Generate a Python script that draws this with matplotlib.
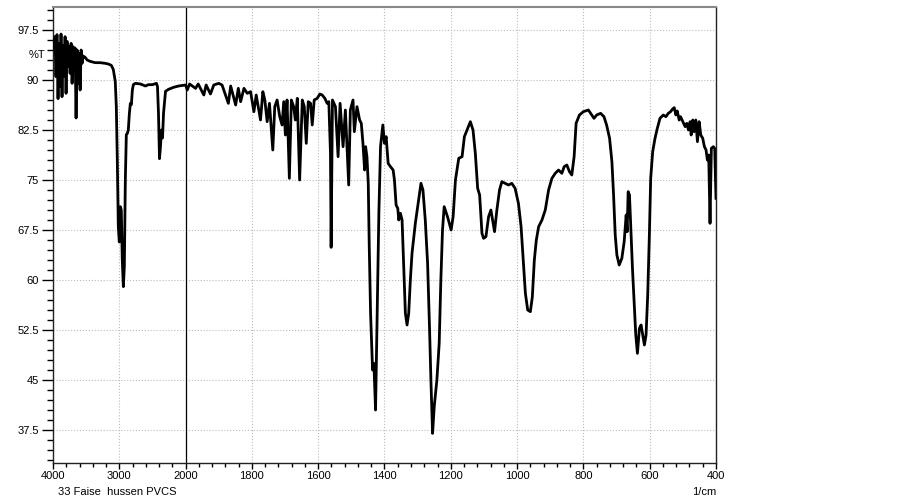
import numpy as np
import matplotlib
matplotlib.use("Agg")
import matplotlib.pyplot as plt
from matplotlib.ticker import FixedLocator, NullFormatter

plt.rcParams['font.family'] = ['Liberation Sans', 'DejaVu Sans']

# IR spectrum: wavenumber (1/cm) and transmittance (%T)
wavenumber = [
    4000, 3985, 3970, 3955, 3940, 3924, 3909, 3894, 3879, 3864, 3849, 3833,
    3818, 3803, 3788, 3773, 3758, 3742, 3727, 3712, 3697, 3682, 3667, 3652,
    3636, 3621, 3606, 3591, 3576, 3561, 3545, 3515, 3485, 3440, 3364, 3288,
    3212, 3167, 3121, 3091, 3061, 3045, 3030, 3015, 3000, 2985, 2970, 2955,
    2939, 2924, 2909, 2894, 2879, 2864, 2848, 2833, 2818, 2803, 2788, 2758,
    2682, 2606, 2561, 2500, 2439, 2424, 2409, 2394, 2379, 2364, 2348, 2333,
    2303, 2258, 2182, 2106, 2030,
    2000, 1995, 1988, 1970, 1962, 1945, 1938, 1925, 1915, 1900, 1890, 1871,
    1864, 1849, 1841, 1834, 1824, 1814, 1804, 1794, 1787, 1774, 1767, 1761,
    1754, 1747, 1737, 1731, 1724, 1716, 1709, 1704, 1699, 1694, 1687, 1681,
    1674, 1669, 1663, 1656, 1648, 1642, 1636, 1630, 1623, 1618, 1612, 1603,
    1595, 1588, 1580, 1573, 1568, 1563, 1561, 1557, 1548, 1540, 1534,
    1525, 1518, 1508, 1503, 1495, 1491, 1483, 1475, 1470, 1465, 1460, 1457,
    1453, 1449, 1446, 1442, 1436, 1432, 1427, 1422, 1417, 1412, 1405, 1400,
    1395, 1389, 1382, 1374, 1370, 1365, 1360, 1357, 1352, 1347, 1342, 1337,
    1332, 1327, 1322, 1317, 1307, 1297, 1290, 1284, 1277, 1270, 1264, 1260,
    1255, 1250, 1242, 1235, 1230, 1225, 1220, 1210, 1199, 1193, 1186, 1176,
    1166, 1159, 1151, 1141, 1133, 1126, 1119, 1113, 1106, 1101, 1094, 1086,
    1079, 1074, 1068, 1061, 1053, 1046, 1036, 1026, 1016, 1006, 996, 988,
    982, 975, 968, 960, 954, 948, 942, 935, 925, 915, 905, 895, 885, 875,
    865, 858, 850, 842, 835, 828, 822, 812, 800,
    785, 775, 768, 760, 748, 738, 730, 721, 714, 709, 704, 699, 692, 684,
    677, 671, 668, 665, 661, 657, 652, 647, 642, 637, 631, 626, 621, 616,
    611, 606, 601, 597, 591, 584, 577, 569, 559, 551, 544, 537, 531, 526,
    521, 517, 511, 507, 500, 493, 488, 483, 478, 475, 470, 466, 461, 456,
    451, 446, 440, 435, 430, 426, 422, 418, 414, 408, 404, 400,
]
transmittance = [
    95.7, 94.5, 96.5, 90.5, 96.8, 87.2, 95.5, 89.0, 96.9, 87.5, 95.2, 90.5,
    96.5, 88.0, 95.8, 92.0, 95.0, 91.0, 95.5, 89.5, 95.0, 92.0, 94.8, 84.3,
    94.5, 89.5, 94.0, 88.5, 94.5, 92.5, 93.6, 93.4, 93.0, 92.8, 92.6, 92.6,
    92.5, 92.4, 92.2, 91.6, 89.8, 86.0, 78.0, 68.0, 65.7, 71.0, 70.5, 63.0,
    59.0, 62.0, 75.0, 81.8, 82.0, 82.5, 85.0, 86.5, 86.3, 88.5, 89.3, 89.5,
    89.4, 89.1, 89.3, 89.3, 89.5, 89.0, 85.0, 78.2, 80.0, 82.5, 81.3, 85.0,
    88.3, 88.6, 88.9, 89.1, 89.2,
    89.25, 88.5, 89.4, 88.75, 89.4, 87.75, 89.25, 87.9, 89.25, 89.5, 89.25, 86.5,
    89.1, 86.25, 88.75, 86.75, 88.75, 88.0, 88.25, 85.25, 87.75, 84.0, 88.25, 87.0,
    83.75, 86.5, 79.5, 86.0, 87.0, 84.5, 83.25, 86.75, 81.75, 87.0, 75.25, 87.0,
    86.0, 84.0, 87.25, 75.0, 87.0, 86.0, 80.5, 86.75, 86.5, 83.25, 87.0, 87.25,
    87.9, 87.75, 87.25, 86.5, 86.75, 79.0, 64.9, 87.0, 86.0, 78.5, 86.5,
    80.0, 85.5, 74.25, 85.5, 87.0, 82.25, 86.0, 84.0, 83.5, 80.5, 76.5, 80.0,
    78.5, 74.5, 65.0, 55.0, 46.5, 47.5, 40.5, 55.0, 70.0, 80.0, 83.25, 80.5,
    81.5, 77.5, 77.0, 76.5, 75.0, 71.25, 70.75, 69.0, 70.0, 69.0, 62.0, 55.0,
    53.25, 55.0, 60.0, 64.0, 68.5, 72.0, 74.5, 73.5, 69.0, 62.5, 52.5, 45.0,
    37.0, 41.0, 45.0, 50.5, 60.0, 67.5, 71.0, 69.5, 67.5, 69.5, 75.0, 78.25,
    78.5, 81.5, 82.5, 83.75, 82.5, 79.0, 73.75, 72.75, 67.0, 66.25, 66.5, 69.5,
    70.5, 69.0, 67.25, 70.5, 73.5, 74.75, 74.5, 74.25, 74.5, 73.75, 71.5, 68.0,
    63.5, 58.0, 55.5, 55.25, 57.5, 63.0, 66.0, 68.0, 69.0, 70.5, 73.5, 75.25,
    76.0, 76.5, 76.0, 77.0, 77.25, 76.25, 75.75, 78.5, 83.5, 84.75, 85.25,
    85.5, 84.75, 84.25, 84.75, 85.0, 84.5, 83.25, 81.25, 77.75, 72.75, 66.75,
    63.75, 62.25, 63.25, 65.75, 69.75, 67.25, 73.25, 72.75, 67.75, 61.75, 56.75,
    51.75, 49.0, 52.75, 53.25, 51.75, 50.25, 51.75, 57.75, 66.75, 75.25, 79.25,
    81.25, 82.75, 84.25, 84.75, 84.5, 85.0, 85.25, 85.65, 85.85, 84.75, 85.35,
    84.0, 84.5, 83.75, 83.0, 83.5, 82.5, 83.75, 81.75, 84.0, 82.25, 84.0, 80.75,
    83.75, 81.75, 81.25, 80.0, 79.5, 78.0, 78.75, 68.5, 79.75, 80.0, 79.75, 72.25,
]

x_major = [4000, 3000, 2000, 1800, 1600, 1400, 1200, 1000, 800, 600, 400]
y_major = [37.5, 45, 52.5, 60, 67.5, 75, 82.5, 90, 97.5]


def fwd(x):
    x = np.asarray(x, dtype=float)
    return np.where(x > 2000, 2000 + (x - 2000) / 5.0, x)


def inv(u):
    u = np.asarray(u, dtype=float)
    return np.where(u > 2000, 2000 + (u - 2000) * 5.0, u)


fig = plt.figure(figsize=(9.02, 5.01), dpi=100)
ax = fig.add_axes([53 / 902, 38 / 501, 663 / 902, 456 / 501])

ax.set_xscale('function', functions=(fwd, inv))
ax.plot(wavenumber, transmittance, color='black', linewidth=2.0, zorder=3)

ax.set_xlim(4000, 400)
ax.set_ylim(32.55, 100.95)

# ticks
ax.xaxis.set_major_locator(FixedLocator(x_major))
ax.set_xticklabels([str(v) for v in x_major])
x_minor = list(range(3800, 2000, -200)) + list(range(1960, 400, -40))
ax.xaxis.set_minor_locator(FixedLocator(x_minor))
ax.xaxis.set_minor_formatter(NullFormatter())

ax.yaxis.set_major_locator(FixedLocator(y_major))
ax.set_yticklabels([('%g' % v) for v in y_major])
ax.yaxis.set_minor_locator(FixedLocator(np.arange(33.0, 101.0, 1.5)))

ax.tick_params(axis='y', which='major', direction='out', length=8, width=1, labelsize=8, pad=2)
ax.tick_params(axis='y', which='minor', direction='out', length=4, width=1)
ax.tick_params(axis='x', which='major', direction='out', length=4, width=1, labelsize=8, pad=2)
ax.tick_params(axis='x', which='minor', direction='out', length=3, width=1)

ax.grid(True, which='major', color='#bbbbbb', linestyle=':', linewidth=0.8, zorder=0)
ax.axvline(2000, color='black', linewidth=0.9, zorder=2)

for side in ['left', 'bottom', 'right']:
    ax.spines[side].set_color('#222222')
    ax.spines[side].set_linewidth(1.0)
ax.spines['top'].set_color('#888888')
ax.spines['top'].set_linewidth(1.5)

# "%T" sits halfway between the 90 and 97.5 labels
ax.text(-0.012, 93.75, '%T', transform=ax.get_yaxis_transform(), ha='right', va='center', fontsize=8)
fig.text(58 / 902, 1 - 492 / 501, '33 Faise  hussen PVCS', ha='left', va='center', fontsize=8)
fig.text(716 / 902, 1 - 492 / 501, '1/cm', ha='right', va='center', fontsize=8)

fig.savefig('out.png', dpi=100)
